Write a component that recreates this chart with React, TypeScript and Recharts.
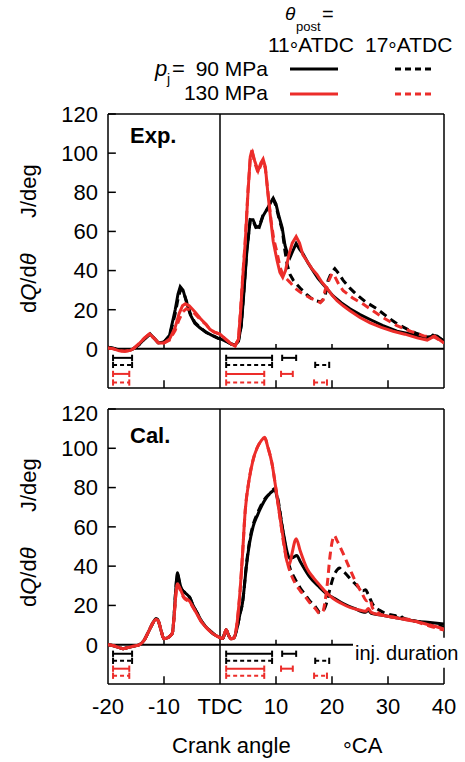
import { ComposedChart, Line, XAxis, YAxis, ReferenceLine } from "recharts";

// crank angle (deg) vs heat release rate (J/deg)
const expB11 = [[-20,0.8],[-19,0.3],[-18,-0.5],[-17,-0.8],[-16,-0.6],[-15.5,0],[-14.5,2],[-13.5,5],[-12.5,7.7],[-11.8,5.5],[-11,3],[-10,3.5],[-9,7],[-8,20],[-7.5,28],[-7.1,31.8],[-6.6,30],[-6,24],[-5.3,17.5],[-4.5,13],[-3.6,10.8],[-2.5,8.5],[-1.5,7],[-0.4,5.5],[0,5.2],[1,4],[2,2.5],[2.7,2],[3.3,4],[3.8,12],[4.3,30],[4.8,50],[5.4,66],[5.9,66],[6.4,62.5],[7,62],[7.7,68],[8.6,72.3],[9.1,75],[9.5,77],[10,74],[10.5,68],[11.1,62],[11.6,53],[12,49],[12.5,46.7],[13,50],[13.6,53.8],[14.2,51],[14.8,48.7],[15.7,44],[16.6,40],[17.5,36],[18.4,33],[19.3,30],[20.2,27],[21.7,23.5],[23.2,20.5],[25,17.5],[26.8,15],[29,12],[31.6,9],[33.3,8],[35,7],[36.5,6],[37.5,5.5],[38,7],[38.8,6.5],[40,4]];
const expB17 = [[-20,0.8],[-19,0.2],[-18,-0.6],[-17,-0.9],[-16,-0.6],[-15.5,0],[-14.5,2],[-13.5,5],[-12.5,7.5],[-11.8,5.5],[-11,3],[-10,3.5],[-9,6.5],[-8,18],[-7.4,27],[-7,30.5],[-6.5,29],[-6,24.5],[-5.3,18],[-4.5,13.5],[-3.6,11],[-2.5,8.5],[-1.5,7],[-0.4,5.5],[0,5.2],[1,4],[2,2.5],[2.7,2],[3.3,4],[3.8,12],[4.3,31],[4.8,51],[5.4,66],[5.9,65.5],[6.4,62],[7,62.5],[7.7,68.5],[8.6,72],[9.1,75.5],[9.5,76.5],[10,73],[10.5,67],[11.1,61],[11.6,50],[12,43],[12.5,38],[13.1,35],[13.7,33],[14.5,30.5],[15.4,28],[16.2,26],[17.1,24.6],[18,24],[18.7,26],[19.3,35],[19.9,39],[20.5,41],[21.2,38.5],[22,35],[23.2,31],[24.3,28],[26,24],[28,20.5],[29.8,16.5],[31.6,12.8],[33.5,10],[35,8],[37,6],[38.5,6.5],[40,4]];
const expR11 = [[-20,0.5],[-19,0],[-18,-1],[-17,-1.2],[-16,-0.8],[-15.5,0],[-14.5,2.5],[-13.5,5.5],[-12.6,7.7],[-11.8,5.5],[-11,3],[-10,3],[-9,5],[-8,11],[-7.3,18],[-6.7,22],[-6.2,23],[-5.5,22],[-4.5,19],[-3.5,15.5],[-2.5,12.5],[-1.8,10],[-1,8.5],[0,7.5],[1,5],[2,2.5],[2.7,1.5],[3.3,5],[3.7,20],[4.1,38],[4.5,54],[5,80],[5.4,98],[5.7,101.5],[6.2,96],[6.8,91],[7.3,95],[7.7,97],[8.1,93],[8.6,78],[9.1,65],[9.5,55],[10.2,45],[10.7,39],[11.2,36.5],[11.7,40],[12.3,48],[12.9,54],[13.6,57.4],[14.2,54],[14.8,48],[15.5,45],[16.4,41],[17.3,38],[18.2,34],[19.1,31],[20,27.5],[20.9,24.6],[22,22],[23.2,19.5],[25,16],[26.8,13.3],[28.8,11],[30.9,9],[33,7.5],[35.2,5.6],[37,4.5],[38.3,6.5],[39,5],[40,3]];
const expR17 = [[-20,0.5],[-19,0],[-18,-1],[-17,-1.2],[-16,-0.8],[-15.5,0],[-14.5,2.5],[-13.5,5.5],[-12.6,7.5],[-11.8,5.5],[-11,3],[-10,3],[-9,4.5],[-8,9.5],[-7.3,15],[-6.6,19],[-6,20.5],[-5.3,20],[-4.5,18],[-3.5,15],[-2.5,12.5],[-1.8,10],[-1,8.5],[0,7.5],[1,5],[2,2.5],[2.7,1.5],[3.3,5],[3.7,21],[4.1,39],[4.5,55],[5,81],[5.4,97],[5.8,100],[6.2,95],[6.8,90],[7.3,94],[7.7,96],[8.1,92],[8.6,79],[9.1,66],[9.6,56],[10.2,49],[10.7,42],[11.2,38],[11.8,36],[12.5,34],[13.4,31],[14.3,29],[15.2,27.5],[16.1,26],[17,25],[17.9,23.6],[18.4,25],[18.75,29.7],[19.3,34],[20,38.5],[20.5,37],[21.2,33],[22,29.7],[23.7,26],[25.5,23],[27.3,19.5],[29.1,16],[31.5,12],[34,9],[36.5,6.5],[38.3,6],[40,3]];

const calB11 = [[-20,0],[-19,-0.5],[-18,-1.5],[-17.3,-2],[-16.5,-1.5],[-15.5,-0.8],[-14.4,0],[-13.5,2.5],[-12.7,7],[-12,11],[-11.4,13.3],[-11,12],[-10.5,7],[-10,3],[-9.5,3.3],[-8.9,4.5],[-8.5,6],[-8.2,15],[-7.9,28],[-7.6,36.7],[-7.3,33],[-6.9,28.5],[-6.25,26.5],[-5.4,24],[-4.8,20],[-4.1,16.3],[-3.4,12.5],[-2.7,9.7],[-1.9,7.4],[-1.2,5.6],[-0.5,4.3],[0,3.6],[0.5,3.2],[0.8,5.5],[1.1,7.6],[1.5,5],[2,3],[2.5,3.5],[3,8],[3.6,16],[4,21],[4.8,42],[5.3,52],[5.9,60],[6.7,66],[7.5,71],[8.2,74.5],[8.9,77],[9.3,78],[9.8,79],[10.2,75],[10.6,69],[11,62],[11.5,54],[12,47],[12.5,43.8],[13.1,44.5],[13.7,45.4],[14.3,42.5],[15,39],[16,34.5],[17.5,30],[19,26],[20.5,23.5],[22,21],[24,18.5],[26,16.5],[26.5,17.5],[27,16],[29,15],[31,14],[33,13],[35,12],[37.5,11.3],[40,10.5]];
const calB17 = [[-20,0],[-19,-0.5],[-18,-1.5],[-17.3,-2],[-16.5,-1.5],[-15.5,-0.8],[-14.4,0],[-13.5,2.5],[-12.7,7],[-12,11],[-11.4,13.3],[-11,12],[-10.5,7],[-10,3],[-9.5,3.3],[-8.9,4.5],[-8.5,6],[-8.2,15],[-7.9,28],[-7.6,36],[-7.3,32.5],[-6.9,28.5],[-6.25,26.5],[-5.4,24],[-4.8,20],[-4.1,16.3],[-3.4,12.5],[-2.7,9.7],[-1.9,7.4],[-1.2,5.6],[-0.5,4.3],[0,3.6],[0.5,3.2],[0.8,5.5],[1.1,7.6],[1.5,5],[2,3],[2.5,3.5],[3,8],[3.6,16],[4,21],[4.8,43],[5.3,53],[5.9,61],[6.7,67],[7.5,72],[8.2,75],[8.9,77],[9.3,78.5],[9.8,79.5],[10.2,76],[10.6,70],[11,62],[11.5,53],[12,44],[12.5,39],[13.4,33.5],[14.3,29],[15.2,25.5],[16,22.4],[17,19.5],[17.9,16.3],[18.5,17.5],[19,21],[19.6,28],[20.3,35],[20.9,38],[21.3,39],[21.8,37.8],[22.5,36],[23.2,33.7],[24.5,30],[25.5,27.5],[26,28],[26.4,26],[27.3,20.5],[28.5,17.5],[30,15.6],[31.5,14.8],[32,15.5],[32.5,14],[34,12.5],[37,11],[40,9]];
const calR11 = [[-20,0],[-19,-0.5],[-18,-1.5],[-17.3,-2],[-16.5,-1.5],[-15.5,-0.8],[-14.4,0],[-13.5,2.5],[-12.7,7],[-12,11],[-11.4,13],[-11,12],[-10.5,7],[-10,3],[-9.5,3.3],[-8.9,4.5],[-8.5,6],[-8.2,14],[-7.9,25],[-7.6,31],[-7.2,29],[-6.5,24.5],[-5.4,22],[-4.8,19],[-4.1,15.5],[-3.4,12],[-2.7,9.5],[-1.9,7.2],[-1.2,5.5],[-0.5,4.3],[0,3.6],[0.5,3.2],[0.8,5.5],[1.1,7.6],[1.5,5],[2,3],[2.5,3.5],[3,10],[3.3,18],[3.6,28],[4,45],[4.5,68],[5.2,84],[5.9,94],[6.6,100],[7.4,104],[8,105.6],[8.5,101],[9.3,92],[10,79],[10.7,65],[11.4,52],[12,42],[12.4,41],[12.9,47],[13.4,53],[13.6,54],[14.3,48],[15.5,39],[16.7,34],[17.9,30],[19,26.5],[20.2,23.5],[21.7,21],[23.2,19],[24.7,17.8],[26,17],[26.5,18.5],[27,16.5],[29,15],[31,14],[33,12.8],[35,11.8],[37.5,10],[40,8]];
const calR17 = [[-20,0],[-19,-0.5],[-18,-1.5],[-17.3,-2],[-16.5,-1.5],[-15.5,-0.8],[-14.4,0],[-13.5,2.5],[-12.7,7],[-12,11],[-11.4,13],[-11,12],[-10.5,7],[-10,3],[-9.5,3.3],[-8.9,4.5],[-8.5,6],[-8.2,14],[-7.9,25],[-7.6,30.5],[-7.2,28.5],[-6.5,24],[-5.4,21.5],[-4.8,19],[-4.1,15.5],[-3.4,12],[-2.7,9.5],[-1.9,7.2],[-1.2,5.5],[-0.5,4.3],[0,3.6],[0.5,3.2],[0.8,5.5],[1.1,7.6],[1.5,5],[2,3],[2.5,3.5],[3,10],[3.3,18],[3.6,28],[4,45],[4.5,68],[5.2,84],[5.9,94],[6.6,100],[7.4,104],[8,105.3],[8.5,101],[9.3,92],[10,79],[10.7,65],[11.4,51],[12.1,41],[12.8,35],[13.5,31],[14.3,27.6],[15.2,24.5],[16,21.5],[17,18.5],[17.9,15.8],[18.4,17],[18.7,21],[19.2,32],[19.6,44],[20,52],[20.4,55.6],[20.9,53],[22,46.4],[23.2,38.5],[24.4,31],[25.3,26.5],[26.2,22.4],[26.8,23],[27.2,19],[28.5,15.8],[30,14.5],[32,13.5],[34,12.8],[36,10.8],[38,9],[40,7.5]];

// injection durations (deg), rows: 90/11, 90/17, 130/11, 130/17
const pilotSpans = [[-19.1,-15.7],[-19.1,-15.7],[-19.1,-16.2],[-19.1,-16.2]];
const mainSpans = [[1.1,9.3],[1.1,9.3],[1.1,7.9],[1.1,7.9]];
const postSpans = [[11.1,13.6],[17.0,19.5],[10.9,13.0],[16.8,19.1]];
const expRows = [-4.6,-8.2,-12.8,-17.2];
const calRows = [-4.6,-8.2,-12.2,-15.8];

const xTicks = [-20,-10,0,10,20,30,40];
const yTicks = [0,20,40,60,80,100,120];
const innerXTicks = [-10,10,20,30];

const RED = "#ec2d2a";
const FONT = "'Liberation Sans', Arial, sans-serif";
const rowColor = ["#000", "#000", RED, RED];
const rowDash = [undefined, "4 3", undefined, "4 3"];

const toPts = (arr: number[][]) => arr.map(([a, v]) => ({ a, v }));

function seg(key: string, x1: number, y1: number, x2: number, y2: number, stroke = "#000", w = 1.5, dash?: string) {
  return (
    <ReferenceLine
      key={key}
      segment={[{ x: x1, y: y1 }, { x: x2, y: y2 }]}
      stroke={stroke}
      strokeWidth={w}
      strokeDasharray={dash}
      ifOverflow="visible"
    />
  );
}

function injBars(rows: number[]) {
  const out: any[] = [];
  rows.forEach((y, i) => {
    [pilotSpans[i], mainSpans[i], postSpans[i]].forEach(([s, e], j) => {
      const c = rowColor[i];
      out.push(seg(`b${i}${j}`, s, y, e, y, c, 2, rowDash[i]));
      out.push(seg(`c${i}${j}a`, s, y - 1.6, s, y + 1.6, c, 2));
      out.push(seg(`c${i}${j}b`, e, y - 1.6, e, y + 1.6, c, 2));
    });
  });
  return out;
}

function frameAndTicks(isCal: boolean) {
  const out: any[] = [];
  out.push(seg("ft", -20, 120, 40, 120));
  out.push(seg("fb", -20, -20, 40, -20));
  out.push(seg("fl", -20, -20, -20, 120));
  if (isCal) {
    out.push(seg("fr1", 40, -20, 40, -11.7));
    out.push(seg("fr2", 40, 3.6, 40, 120));
    out.push(seg("zero", -20, 0, 23.75, 0, "#000", 2));
  } else {
    out.push(seg("fr", 40, -20, 40, 120));
    out.push(seg("zero", -20, 0, 40, 0, "#000", 2));
  }
  out.push(seg("tdc", 0, -20, 0, 120));
  yTicks.forEach((t) => out.push(seg(`yt${t}`, -20, t, -18.6, t)));
  innerXTicks.forEach((t) => {
    out.push(seg(`xb${t}`, t, -20, t, -16));
    if (!(isCal && t === 30)) out.push(seg(`xz${t}`, t, 0, t, 2.5));
  });
  return out;
}

function curves(b11: number[][], b17: number[][], r11: number[][], r17: number[][], type: "linear" | "monotone") {
  const common = { dataKey: "v", dot: false, strokeWidth: 3, isAnimationActive: false, type };
  return [
    <Line key="b17" data={toPts(b17)} stroke="#000" strokeDasharray="8 5" {...common} />,
    <Line key="b11" data={toPts(b11)} stroke="#000" {...common} />,
    <Line key="r17" data={toPts(r17)} stroke={RED} strokeDasharray="8 5" {...common} />,
    <Line key="r11" data={toPts(r11)} stroke={RED} {...common} />,
  ];
}

const tickStyle = { fontSize: 22, fill: "#000", fontFamily: FONT };

export default function App() {
  return (
    <div style={{ position: "absolute", left: 0, top: 0, width: 465, height: 762, background: "#fff", fontFamily: FONT }}>
      <div style={{ position: "absolute", left: 0, top: 0 }}>
        <ComposedChart width={465} height={400} margin={{ top: 114, right: 21, bottom: 12, left: 48 }}>
          <XAxis type="number" dataKey="a" domain={[-20, 40]} ticks={xTicks} hide allowDataOverflow />
          <YAxis type="number" domain={[-20, 120]} ticks={yTicks} width={60} axisLine={false} tickLine={false} tickMargin={4} tick={tickStyle} allowDataOverflow />
          {frameAndTicks(false)}
          {curves(expB11, expB17, expR11, expR17, "linear")}
          {injBars(expRows)}
        </ComposedChart>
      </div>
      <div style={{ position: "absolute", left: 0, top: 400 }}>
        <ComposedChart width={465} height={362} margin={{ top: 9, right: 21, bottom: 48, left: 48 }}>
          <XAxis type="number" dataKey="a" domain={[-20, 40]} ticks={xTicks} height={30} axisLine={false} tickLine={false} tickMargin={8} tick={tickStyle} tickFormatter={(v: number) => (v === 0 ? "TDC" : String(v))} allowDataOverflow />
          <YAxis type="number" domain={[-20, 120]} ticks={yTicks} width={60} axisLine={false} tickLine={false} tickMargin={4} tick={tickStyle} allowDataOverflow />
          {frameAndTicks(true)}
          {curves(calB11, calB17, calR11, calR17, "monotone")}
          {injBars(calRows)}
        </ComposedChart>
      </div>
      <svg width={465} height={762} style={{ position: "absolute", left: 0, top: 0, pointerEvents: "none" }} fontFamily={FONT} fill="#000">
        {/* legend */}
        <text x={285} y={20} fontSize={19} fontStyle="italic">θ</text>
        <text x={296} y={31} fontSize={13}>post</text>
        <text x={322} y={21} fontSize={20}>=</text>
        <text x={268} y={52} fontSize={21}>
          11<tspan dy={5}>°</tspan><tspan dy={-5}>ATDC</tspan>
        </text>
        <text x={365} y={52} fontSize={21}>
          17<tspan dy={5}>°</tspan><tspan dy={-5}>ATDC</tspan>
        </text>
        <text x={155} y={76} fontSize={22} fontStyle="italic">p</text>
        <text x={167} y={84} fontSize={14}>j</text>
        <text x={172} y={76} fontSize={22}>=</text>
        <text x={268} y={76} fontSize={21} textAnchor="end">90 MPa</text>
        <text x={268} y={100} fontSize={21} textAnchor="end">130 MPa</text>
        <line x1={290} y1={69} x2={338} y2={69} stroke="#000" strokeWidth={3} />
        <line x1={395} y1={69} x2={435} y2={69} stroke="#000" strokeWidth={3} strokeDasharray="6 4" />
        <line x1={290} y1={94} x2={338} y2={94} stroke={RED} strokeWidth={3} />
        <line x1={395} y1={94} x2={435} y2={94} stroke={RED} strokeWidth={3} strokeDasharray="6 4" />
        {/* panel titles */}
        <text x={130} y={143} fontSize={22} fontWeight="bold">Exp.</text>
        <text x={130} y={443} fontSize={22} fontWeight="bold">Cal.</text>
        <text x={355} y={660} fontSize={20}>inj. duration</text>
        {/* y axis titles */}
        {[313, 607].map((y0) => (
          <g key={y0}>
            <text x={36} y={y0} fontSize={22} transform={`rotate(-90 36 ${y0})`}>
              d<tspan fontStyle="italic">Q</tspan>/d<tspan fontStyle="italic">θ</tspan>
            </text>
            <text x={36} y={y0 - 95} fontSize={22} transform={`rotate(-90 36 ${y0 - 95})`}>J/deg</text>
          </g>
        ))}
        {/* x axis title */}
        <text x={172} y={753} fontSize={22}>Crank angle</text>
        <text x={343} y={753} fontSize={22}>
          <tspan dy={5}>°</tspan><tspan dy={-5}>CA</tspan>
        </text>
      </svg>
    </div>
  );
}
